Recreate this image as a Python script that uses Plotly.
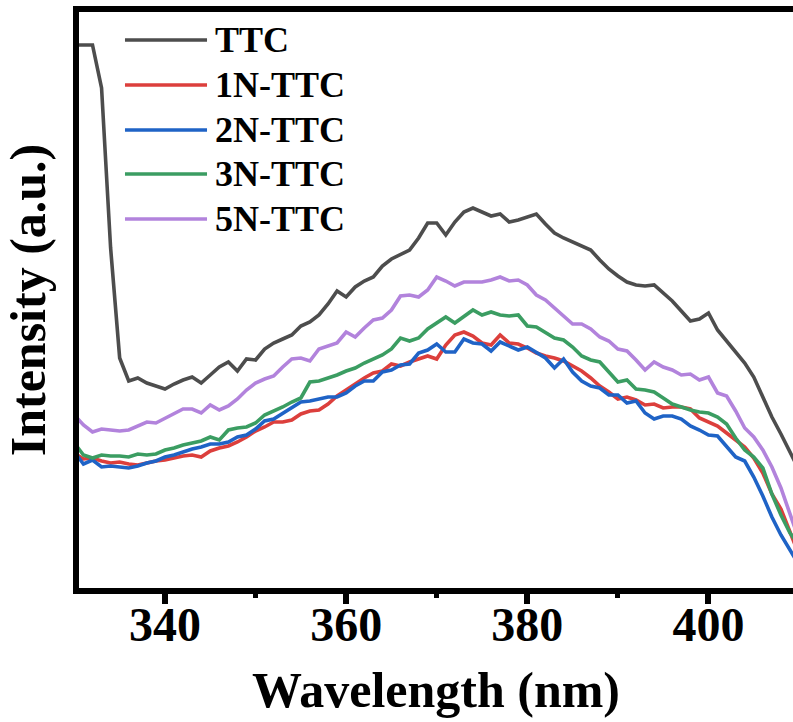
import plotly.graph_objects as go

wavelength = list(range(330, 411))

ttc = [555, 555, 555, 512, 352, 242, 219, 222, 217, 214,
       211, 216, 220, 223, 217, 225, 233, 238, 229, 241,
       240, 251, 257, 261, 265, 274, 278, 285, 296, 309,
       303, 313, 319, 323, 334, 341, 346, 350, 362, 377,
       377, 365, 378, 388, 392, 388, 384, 386, 378, 380,
       383, 386, 376, 367, 362, 358, 354, 350, 340, 331,
       324, 318, 315, 314, 315, 307, 299, 289, 279, 281,
       287, 270, 259, 249, 237, 223, 203, 183, 166, 148, 130]

n1_ttc = [147, 141, 142, 139, 137, 138, 136, 135, 137, 139,
          140, 142, 144, 145, 143, 149, 152, 154, 158, 163,
          169, 173, 178, 178, 180, 186, 189, 190, 196, 204,
          210, 217, 222, 227, 229, 236, 234, 238, 241, 244,
          241, 255, 265, 268, 264, 257, 255, 265, 257, 256,
          252, 247, 244, 242, 239, 234, 229, 222, 214, 208,
          201, 203, 200, 195, 196, 192, 193, 193, 191, 182,
          178, 174, 167, 160, 153, 142, 127, 106, 91, 68, 45]

n2_ttc = [148, 136, 140, 133, 134, 133, 132, 134, 137, 139,
          143, 145, 148, 151, 153, 156, 156, 158, 163, 165,
          171, 179, 181, 187, 193, 198, 199, 201, 203, 203,
          207, 214, 219, 219, 228, 230, 235, 236, 247, 250,
          256, 248, 248, 261, 257, 256, 249, 258, 254, 250,
          253, 247, 242, 232, 241, 228, 219, 214, 212, 205,
          205, 197, 199, 187, 181, 184, 184, 181, 174, 170,
          165, 164, 154, 143, 139, 123, 104, 83, 65, 50, 35]

n3_ttc = [157, 145, 142, 145, 144, 144, 143, 146, 145, 146,
          150, 152, 155, 157, 159, 163, 160, 170, 172, 173,
          177, 185, 189, 193, 198, 202, 218, 219, 222, 225,
          229, 232, 237, 241, 245, 251, 262, 259, 262, 271,
          277, 283, 277, 284, 290, 285, 288, 285, 284, 285,
          274, 273, 267, 262, 260, 253, 244, 240, 238, 228,
          218, 220, 211, 210, 208, 202, 196, 193, 190, 188,
          187, 183, 176, 162, 150, 143, 132, 106, 85, 67, 55]

n5_ttc = [185, 175, 168, 171, 170, 169, 170, 174, 178, 177,
          182, 187, 191, 191, 187, 195, 190, 194, 201, 210,
          217, 221, 224, 233, 241, 242, 239, 251, 254, 257,
          268, 263, 272, 280, 282, 290, 304, 305, 303, 310,
          323, 319, 314, 318, 318, 318, 320, 323, 319, 320,
          315, 305, 300, 292, 283, 276, 276, 271, 263, 259,
          251, 249, 240, 230, 238, 233, 230, 225, 226, 220,
          223, 207, 204, 189, 172, 163, 150, 133, 112, 85, 60]

series_names = ["TTC", "1N-TTC", "2N-TTC", "3N-TTC", "5N-TTC"]
series_values = [ttc, n1_ttc, n2_ttc, n3_ttc, n5_ttc]
series_colors = ["#4d4d4d", "#dc3f3c", "#1f63c6", "#3b9d62", "#b283dc"]

x_ticks = [340, 360, 380, 400]
x_minor_ticks = [350, 370, 390]

FONT = "Liberation Serif"
LINE_W = 3.6

fig = go.Figure()
for name, vals, col in zip(series_names, series_values, series_colors):
    fig.add_trace(go.Scatter(x=wavelength, y=vals, mode="lines", name=name,
                             line=dict(color=col, width=LINE_W), showlegend=False))

# Legend drawn as key lines + labels (paper coordinates of the plot area)
leg_x0, leg_x1, leg_tx = 0.0644, 0.1793, 0.1875
leg_rows = [0.9514, 0.8733, 0.7951, 0.7188, 0.6406]
for name, col, yy in zip(series_names, series_colors, leg_rows):
    fig.add_shape(type="line", xref="paper", yref="paper",
                  x0=leg_x0, x1=leg_x1, y0=yy, y1=yy,
                  line=dict(color=col, width=LINE_W))
    fig.add_annotation(xref="paper", yref="paper", x=leg_tx, y=yy,
                       xanchor="left", yanchor="middle", showarrow=False,
                       text=name,
                       font=dict(family=FONT, size=36, color="black", weight="bold"))

fig.update_layout(
    width=793, height=722,
    margin=dict(l=79, r=0, t=12, b=134),
    paper_bgcolor="white", plot_bgcolor="white",
    font=dict(family=FONT, color="black", weight="bold"),
    showlegend=False,
)

fig.update_xaxes(
    range=[330.51, 409.33], showgrid=False, zeroline=False,
    showline=True, linewidth=6, linecolor="black", mirror=True,
    ticks="outside", ticklen=10, tickwidth=6, tickcolor="black",
    tickmode="array", tickvals=x_ticks, ticktext=[str(v) for v in x_ticks],
    tickfont=dict(family=FONT, size=48, color="black", weight="bold"),
    ticklabelstandoff=-21,
    minor=dict(tickmode="array", tickvals=x_minor_ticks, ticks="outside",
               ticklen=4, tickwidth=5, tickcolor="black"),
    title=dict(text="Wavelength (nm)", standoff=24,
               font=dict(family=FONT, size=50, color="black", weight="bold")),
)

fig.update_yaxes(
    range=[12, 588], showgrid=False, zeroline=False,
    showline=True, linewidth=6, linecolor="black", mirror=False,
    ticks="", showticklabels=False,
    title=dict(text="Intensity (a.u.)", standoff=28,
               font=dict(family=FONT, size=50, color="black", weight="bold")),
)

fig.write_html("out.html", config={"displayModeBar": False},
               post_script="document.body.style.margin='0px';")
